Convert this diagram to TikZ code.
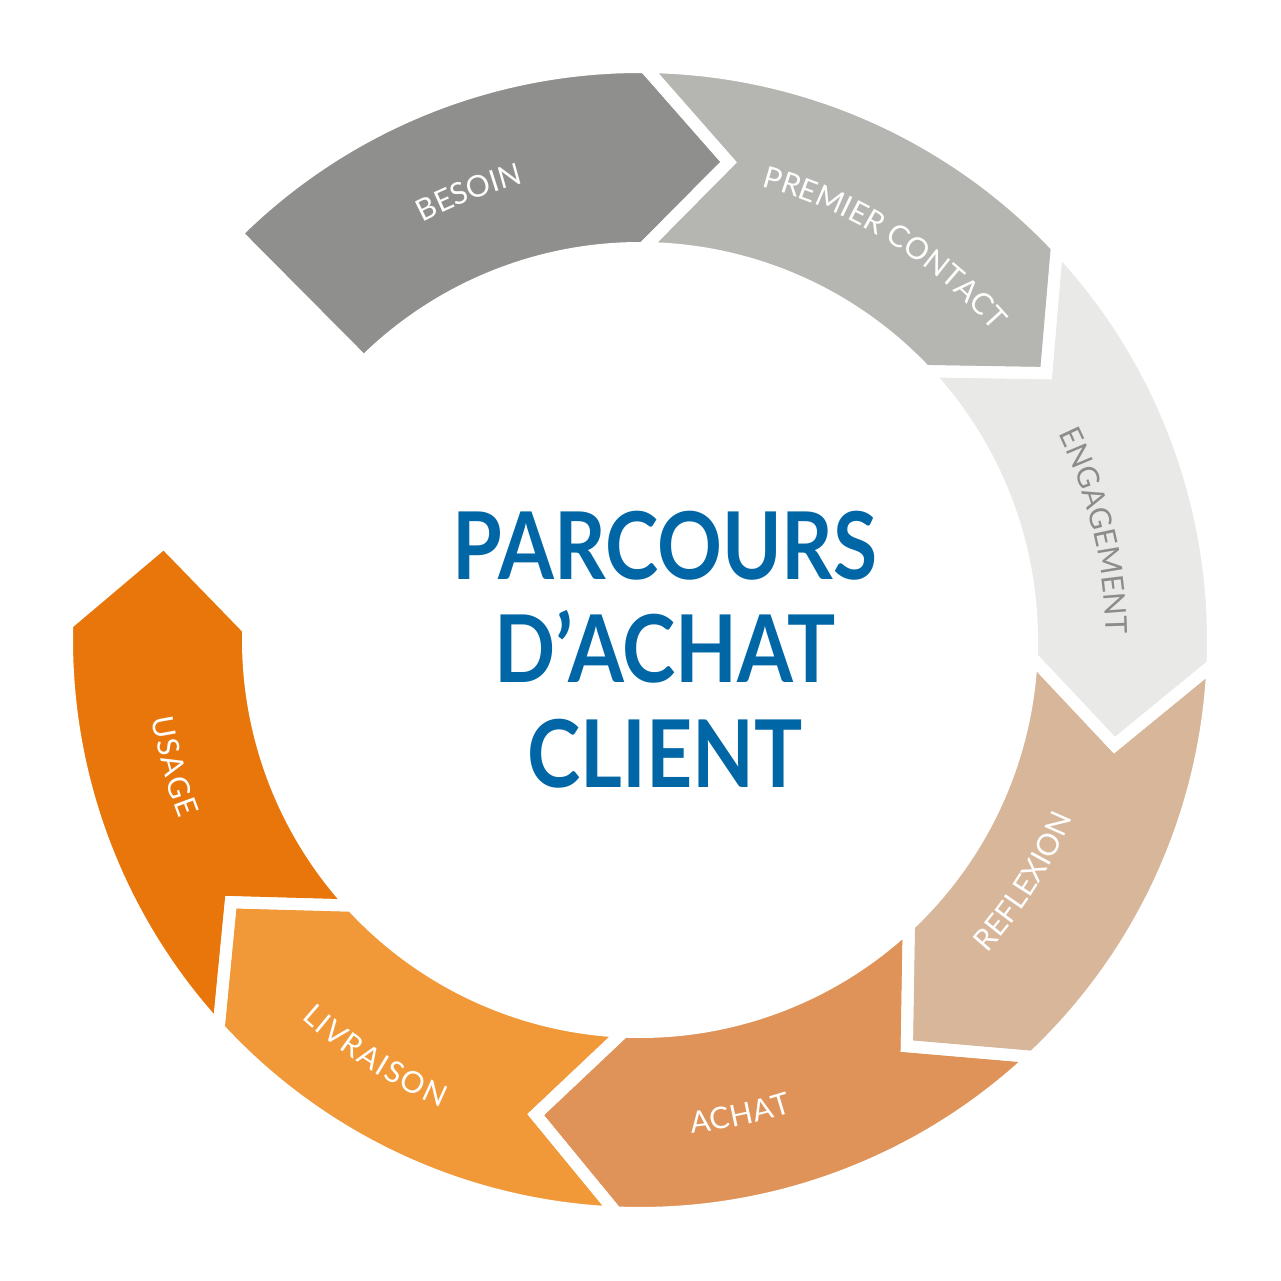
\documentclass[tikz,border=0pt]{standalone}
\usepackage{fontspec}
\setmainfont{Lato}
\usetikzlibrary{decorations.text}
\definecolor{cBes}{HTML}{8F8F8D}
\definecolor{cPre}{HTML}{B5B6B1}
\definecolor{cEng}{HTML}{E9E9E8}
\definecolor{cRef}{HTML}{D7B69A}
\definecolor{cAch}{HTML}{DF9358}
\definecolor{cLiv}{HTML}{F19939}
\definecolor{cUsa}{HTML}{E9760B}
\definecolor{cTitle}{HTML}{0066A6}
\definecolor{cEngTxt}{HTML}{8C8C8C}
\newcommand\titlefont{\fontsize{93.5}{100}\selectfont\bfseries}
\newcommand\labelfont{\fontsize{30}{32}\selectfont}
\tikzset{
  gapline/.style={draw=white, line width=12pt, line join=miter},
  titletext/.style={text=cTitle, font=\titlefont, inner sep=0pt, anchor=base, xscale=0.86},
}
\begin{document}
\begin{tikzpicture}[x=1pt,y=1pt]
\useasboundingbox (-640,-641) rectangle (640,640);
\fill[white] (-640,-641) rectangle (640,640);
% segments (fills)
\fill[cBes] (134.8:573) arc[start angle=134.8, end angle=89.5, radius=573]
  -- (79.5:486) -- (89.5:392) arc[start angle=89.5, end angle=134.8, radius=392] -- cycle;
\foreach \s/\e/\c in {89.5/43.3/cPre, 43.3/-2.5/cEng, -2.5/-46.7/cRef,
  -46.7/-92.4/cAch, -92.4/-137.35/cLiv, -137.35/-181.6/cUsa}{
  \fill[\c] (\s:573) arc[start angle=\s, end angle=\e, radius=573]
    -- ({\e-10}:486) -- (\e:392) arc[start angle=\e, end angle=\s, radius=392]
    -- ({\s-10}:486) -- cycle;
}
% white gaps
\draw[gapline] (134.8:573) arc[start angle=134.8, end angle=89.5, radius=573]
  -- (79.5:486) -- (89.5:392) arc[start angle=89.5, end angle=134.8, radius=392] -- cycle;
\foreach \s/\e in {89.5/43.3, 43.3/-2.5, -2.5/-46.7,
  -46.7/-92.4, -92.4/-137.35, -137.35/-181.6}{
  \draw[gapline] (\s:573) arc[start angle=\s, end angle=\e, radius=573]
    -- ({\e-10}:486) -- (\e:392) arc[start angle=\e, end angle=\s, radius=392]
    -- ({\s-10}:486) -- cycle;
}
% labels along the ring
\path[decorate, decoration={text along path, text align=center, text color=white,
  text={|\labelfont|BESOIN}}]
  (140.9:470.8) arc[start angle=140.9, end angle=80.9, radius=470.8];
\path[decorate, decoration={text along path, text align=center, text color=white,
  text={|\labelfont|PREMIER CONTACT}}]
  (88.05:469.2) arc[start angle=88.05, end angle=28.05, radius=469.2];
\path[decorate, decoration={text along path, text align=center, text color=cEngTxt,
  text={|\labelfont|ENGAGEMENT}}]
  (43.5:466.2) arc[start angle=43.5, end angle=-16.5, radius=466.2];
\path[decorate, decoration={text along path, text align=center, text color=white,
  text={|\labelfont|REFLEXION}}]
  (-62.2:467.3) arc[start angle=-62.2, end angle=-2.2, radius=467.3];
\path[decorate, decoration={text along path, text align=center, text color=white,
  text={|\labelfont|A{\kern0.5pt}C{\kern0.5pt}H{\kern0.5pt}A{\kern0.5pt}T}}]
  (-108.1:495.8) arc[start angle=-108.1, end angle=-48.1, radius=495.8];
\path[decorate, decoration={text along path, text align=center, text color=white,
  text={|\labelfont|L{\kern1.5pt}I{\kern1.5pt}V{\kern1.5pt}R{\kern1.5pt}A{\kern1.5pt}I{\kern1.5pt}S{\kern1.5pt}O{\kern1.5pt}N}}]
  (-152.45:507.8) arc[start angle=-152.45, end angle=-92.45, radius=507.8];
\path[decorate, decoration={text along path, text align=center, text color=white,
  text={|\labelfont|U{\kern1.5pt}S{\kern1.5pt}A{\kern1.5pt}G{\kern1.5pt}E}}]
  (165.15:494.3) arc[start angle=165.15, end angle=225.15, radius=494.3];
% title
\node[titletext] (t1) at (25,60) {PARCOURS};
\node[titletext] (t2) at (25,-43) {D’ACHAT};
\node[titletext] (t3) at (25,-147) {CLIENT};
\end{tikzpicture}
\end{document}
